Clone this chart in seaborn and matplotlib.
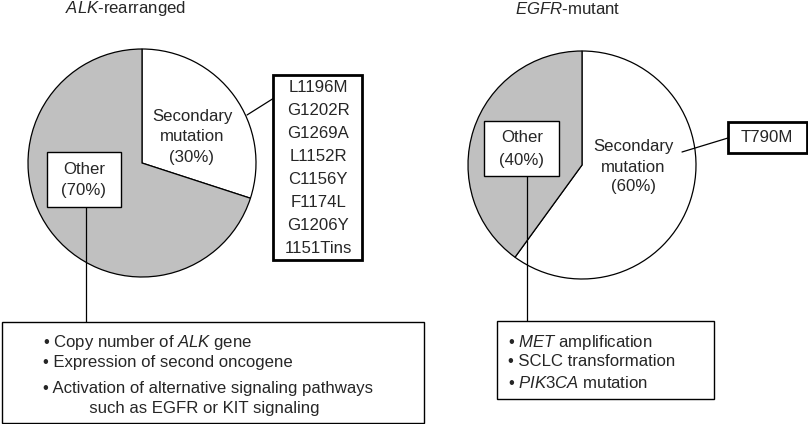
import numpy as np
import seaborn as sns
import matplotlib.pyplot as plt
from matplotlib.patches import Rectangle

sns.set_theme(style="white")
plt.rcParams['font.family'] = ['Liberation Sans', 'DejaVu Sans']
plt.rcParams['mathtext.fontset'] = 'custom'
plt.rcParams['mathtext.rm'] = 'Liberation Sans'
plt.rcParams['mathtext.it'] = 'Liberation Sans:italic'

# data
alk_labels = ["Secondary\nmutation", "Other"]
alk_values = [30, 70]
egfr_labels = ["Secondary\nmutation", "Other"]
egfr_values = [60, 40]
slice_colors = ["white", "#c0c0c0"]

alk_mutations = ["L1196M", "G1202R", "G1269A", "L1152R",
                 "C1156Y", "F1174L", "G1206Y", "1151Tins"]
egfr_mutations = ["T790M"]
alk_other = ["\u2022 Copy number of $\\mathit{ALK}$ gene",
             "\u2022 Expression of second oncogene",
             "\u2022 Activation of alternative signaling pathways",
             "          such as EGFR or KIT signaling"]
egfr_other = ["\u2022 $\\mathit{MET}$ amplification",
              "\u2022 SCLC transformation",
              "\u2022 $\\mathit{PIK3CA}$ mutation"]

W, H = 808, 424
FS = 12.1


def py(y):
    # pixel row (from top) -> data y
    return H - y


fig = plt.figure(figsize=(W / 100, H / 100), dpi=100)
ax = fig.add_axes([0, 0, 1, 1])

wp = dict(edgecolor="black", linewidth=0.9)
ax.pie(alk_values, colors=slice_colors, startangle=90, counterclock=False,
       center=(142, py(163)), radius=114, wedgeprops=wp)
ax.pie(egfr_values, colors=slice_colors, startangle=90, counterclock=False,
       center=(582, py(165)), radius=114, wedgeprops=wp)

ax.set_xlim(0, W)
ax.set_ylim(0, H)
ax.set_aspect("auto")
ax.axis("off")


def lines_at(lines, x, y0, dy, ha="center", **kw):
    for i, s in enumerate(lines):
        ax.text(x, py(y0 + i * dy), s, ha=ha, va="center", fontsize=FS, **kw)


def box(x0, y0, x1, y1, lw=1.0):
    ax.add_patch(Rectangle((x0, py(y1)), x1 - x0, y1 - y0, facecolor="white",
                           edgecolor="black", linewidth=lw, zorder=3))


def link(x0, y0, x1, y1):
    ax.plot([x0, x1], [py(y0), py(y1)], color="black", linewidth=0.9, zorder=2)


# titles
ax.text(125, py(9), "$\\mathit{ALK}$-rearranged", ha="center", va="center", fontsize=FS)
ax.text(568, py(9), "$\\mathit{EGFR}$-mutant", ha="center", va="center", fontsize=FS)

# slice labels
alk_txt = [f"{l}\n({v}%)" for l, v in zip(alk_labels, alk_values)]
egfr_txt = [f"{l}\n({v}%)" for l, v in zip(egfr_labels, egfr_values)]
lines_at(alk_txt[0].split("\n"), 192, 116, 20.7)
lines_at(egfr_txt[0].split("\n"), 633, 147, 20.0)

box(47, 152, 121, 207)
box(484, 121, 559, 176)
lines_at(alk_txt[1].split("\n"), 84, 169, 22, zorder=4)
lines_at(egfr_txt[1].split("\n"), 522, 138, 22, zorder=4)

# mutation boxes
link(247, 115, 274, 98)
box(273, 75, 362, 260, lw=2.0)
lines_at(alk_mutations, 318, 88, 22.9, zorder=4)

link(682, 152, 728, 138)
box(728, 122, 807, 153, lw=2.0)
lines_at(egfr_mutations, 767, 138, 22, zorder=4)

# other mechanism boxes
link(86, 207, 86, 322)
box(2, 322, 424, 423)
for s, y in zip(alk_other, [342, 363, 388, 408]):
    ax.text(43, py(y), s, ha="left", va="center", fontsize=FS, zorder=4)

link(527, 176, 527, 321)
box(497, 321, 714, 399)
for s, y in zip(egfr_other, [342, 362, 383]):
    ax.text(508, py(y), s, ha="left", va="center", fontsize=FS, zorder=4)

fig.savefig("out.png", dpi=100)
